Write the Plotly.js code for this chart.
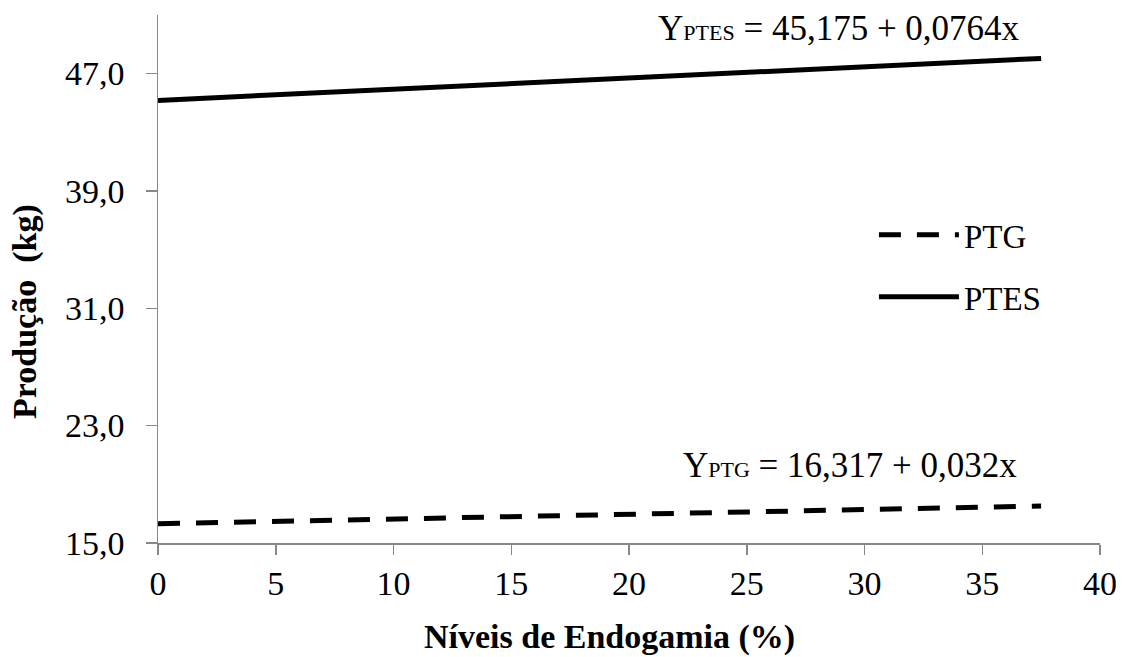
<!DOCTYPE html>
<html>
<head>
<meta charset="utf-8">
<script src="https://cdn.plot.ly/plotly-3.0.1.min.js"></script>
<style>html,body{margin:0;padding:0;background:#fff;}#chart{width:1131px;height:657px;}</style>
</head>
<body>
<div id="chart"></div>
<script>
const endogamia = [0, 37.5];
const ptg = [16.317, 17.517];
const ptes = [45.175, 48.04];
const xTicks = [0, 5, 10, 15, 20, 25, 30, 35, 40];
const yTicks = [15, 23, 31, 39, 47];
const yTickLabels = ["15,0", "23,0", "31,0", "39,0", "47,0"];
const seriesNames = ["PTG", "PTES"];
const eqPTES = 'Y<span style="font-size:22px">PTES</span> = 45,175 + 0,0764x';
const eqPTG = 'Y<span style="font-size:22px">PTG</span> = 16,317 + 0,032x';

const serif = "Liberation Serif";

const traces = [
  {x: endogamia, y: ptg, name: seriesNames[0], mode: "lines", legendgroup: "a",
   line: {color: "#000", width: 5, dash: "22px,16px"}},
  {x: endogamia, y: ptes, name: seriesNames[1], mode: "lines", legendgroup: "b",
   line: {color: "#000", width: 5}}
];

const yLabelAnnotations = yTicks.map((v, i) => ({
  xref: "paper", yref: "y", x: -31 / 942, y: v, text: yTickLabels[i],
  xanchor: "right", yanchor: "middle", showarrow: false,
  font: {family: serif, size: 34, color: "#000"}
}));

const layout = {
  width: 1131, height: 657,
  margin: {l: 158, r: 31, t: 15, b: 114},
  paper_bgcolor: "#fff", plot_bgcolor: "#fff",
  font: {family: serif, color: "#000", size: 34},
  showlegend: true,
  legend: {x: 0.76, y: 0.525, xanchor: "left", yanchor: "middle",
           font: {family: serif, size: 33, color: "#000"},
           itemwidth: 80, traceorder: "grouped", tracegroupgap: 16,
           bgcolor: "rgba(0,0,0,0)"},
  xaxis: {range: [0, 40], tickvals: xTicks, ticktext: xTicks.map(String),
          showgrid: false, zeroline: false, showline: true, linecolor: "#888", linewidth: 1.5,
          ticks: "outside", ticklen: 10, tickcolor: "#888", tickwidth: 1.5,
          tickfont: {family: serif, size: 34, color: "#000"}},
  yaxis: {range: [15, 51], tickvals: yTicks, showticklabels: false,
          showgrid: false, zeroline: false, showline: true, linecolor: "#888", linewidth: 1.5,
          ticks: "outside", ticklen: 11, tickcolor: "#888", tickwidth: 1.5},
  annotations: yLabelAnnotations.concat([
    {xref: "x", yref: "y", x: 28.9, y: 50.1, text: eqPTES, showarrow: false,
     xanchor: "center", yanchor: "middle",
     font: {family: serif, size: 35, color: "#000"}},
    {xref: "x", yref: "y", x: 29.4, y: 20.3, text: eqPTG, showarrow: false,
     xanchor: "center", yanchor: "middle",
     font: {family: serif, size: 35, color: "#000"}},
    {xref: "paper", yref: "paper", x: (609 - 158) / 942, y: -(637 - 543) / 528,
     xanchor: "center", yanchor: "middle",
     text: "<b>Níveis de Endogamia (%)</b>", showarrow: false,
     font: {family: serif, size: 34, color: "#000"}},
    {xref: "paper", yref: "paper", x: -(158 - 25) / 942, y: (543 - 312) / 528,
     xanchor: "center", yanchor: "middle",
     text: "<b>Produção  (kg)</b>", textangle: -90, showarrow: false,
     font: {family: serif, size: 34, color: "#000"}}
  ])
};

Plotly.newPlot("chart", traces, layout, {displayModeBar: false, staticPlot: true});
</script>
</body>
</html>
